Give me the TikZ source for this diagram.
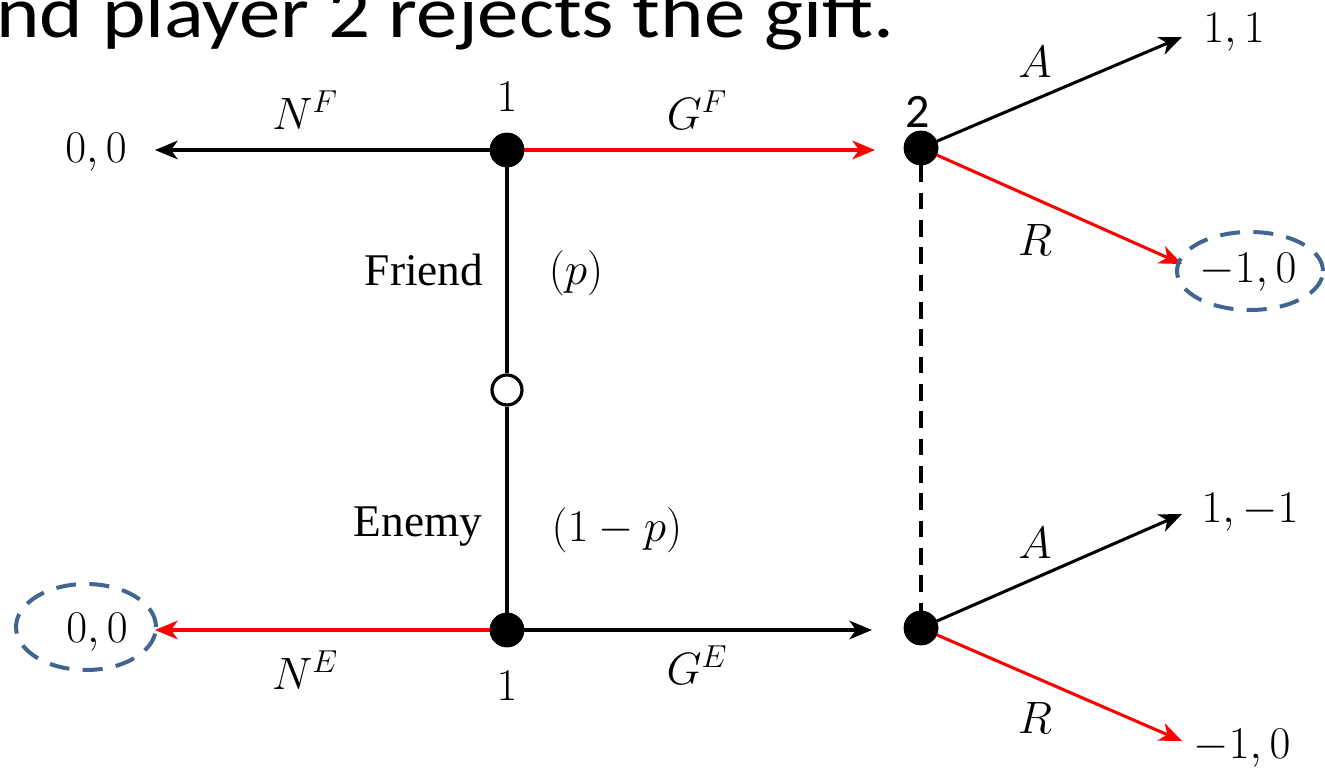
\RequirePackage{fix-cm}
\documentclass[tikz,border=0pt]{standalone}
\usepackage{fontspec}
\setmainfont{Liberation Serif}
\newfontfamily\calib{Carlito}
\usetikzlibrary{arrows.meta,shapes.geometric}
\definecolor{ellblue}{RGB}{65,100,145}
\definecolor{arrred}{RGB}{255,0,0}
\tikzset{
  lbl/.style={inner sep=0pt, font=\fontsize{34}{40}\selectfont},
  player/.style={circle, fill=black, draw=black, minimum size=34pt*0.75, inner sep=0pt},
  chance/.style={circle, fill=white, draw=black, line width=2.4pt, minimum size=30pt*0.75, inner sep=0pt},
  edge/.style={line width=2.3pt, -{Stealth[length=17pt, width=14pt, inset=5pt]}},
  plain/.style={line width=2.3pt},
  redge/.style={edge, draw=arrred},
  infoset/.style={line width=3pt, dash pattern=on 12.5pt off 8pt},
  circ/.style={draw=ellblue, line width=3pt, dash pattern=on 15pt off 10pt, ellipse},
}
\begin{document}
\begin{tikzpicture}[x=0.75pt, y=-0.75pt]
\useasboundingbox (0,0) rectangle (1325,773);
\clip (0,0) rectangle (1325,773);
% title fragment
\node[anchor=base west, inner sep=0pt, xscale=1.13, font=\calib\fontsize{55}{60}\selectfont] (title) at (-4,38) {nd player 2 rejects the gift.};
% nodes
\node[player] (a) at (507,150) {};
\node[player] (b) at (507,630) {};
\node[chance] (c) at (507,390) {};
\node[player] (d) at (921,148) {};
\node[player] (e) at (921,628) {};
\coordinate (nfend) at (155,150);
\coordinate (neend) at (155,630);
\coordinate (gfend) at (875,150);
\coordinate (geend) at (872,630);
\coordinate (aup) at (1182,37);
\coordinate (rup) at (1182,264);
\coordinate (adn) at (1182,514);
\coordinate (rdn) at (1182,741);
% edges
\draw[plain] (a) -- (c);
\draw[plain] (c) -- (b);
\draw[infoset] (d) -- (e);
\draw[edge] (a.center) -- (nfend);
\draw[redge] (a.center) -- (gfend);
\draw[redge] (b.center) -- (neend);
\draw[edge] (b.center) -- (geend);
\draw[edge] (d.center) -- (aup);
\draw[redge] (d.center) -- (rup);
\draw[edge] (e.center) -- (adn);
\draw[redge] (e.center) -- (rdn);
% redraw nodes on top
\node[player] at (a) {};
\node[player] at (b) {};
\node[player] at (d) {};
\node[player] at (e) {};
% labels
\node[lbl] (p1) at (507,97) {$1$};
\node[lbl] (p1b) at (507,686) {$1$};
\node[lbl, font=\calib\fontsize{36}{40}\selectfont] (p2) at (918,112) {2};
\node[lbl] (nf) at (305,110) {$N^F$};
\node[lbl] (gf) at (697,110) {$G^F$};
\node[lbl] (ne) at (305,670) {$N^E$};
\node[lbl] (ge) at (697,665) {$G^E$};
\node[lbl] (pay00) at (96,152) {$0,0$};
\node[lbl] (pay00b) at (97,632) {$0,0$};
\node[circ, minimum width=140pt*0.75, minimum height=86pt*0.75] (el1) at (86,627) {};
\node[lbl] (friend) at (424,270) {Friend};
\node[lbl] (pp) at (576,273) {$(p)$};
\node[lbl] (enemy) at (418,527) {Enemy};
\node[lbl] (qq) at (617,530) {$(1-p)$};
\node[lbl] (a1) at (1035,62) {$A$};
\node[lbl] (r1) at (1035,240) {$R$};
\node[lbl] (a2) at (1035,543) {$A$};
\node[lbl] (r2) at (1035,718) {$R$};
\node[lbl] (pay11) at (1234,32) {$1,1$};
\node[lbl] (paym10) at (1248,272) {$-1,0$};
\node[circ, minimum width=146pt*0.75, minimum height=78pt*0.75] (el2) at (1250,271) {};
\node[lbl] (pay1m1) at (1250,512) {$1,-1$};
\node[lbl] (paym10b) at (1242,748) {$-1,0$};
\end{tikzpicture}
\end{document}
